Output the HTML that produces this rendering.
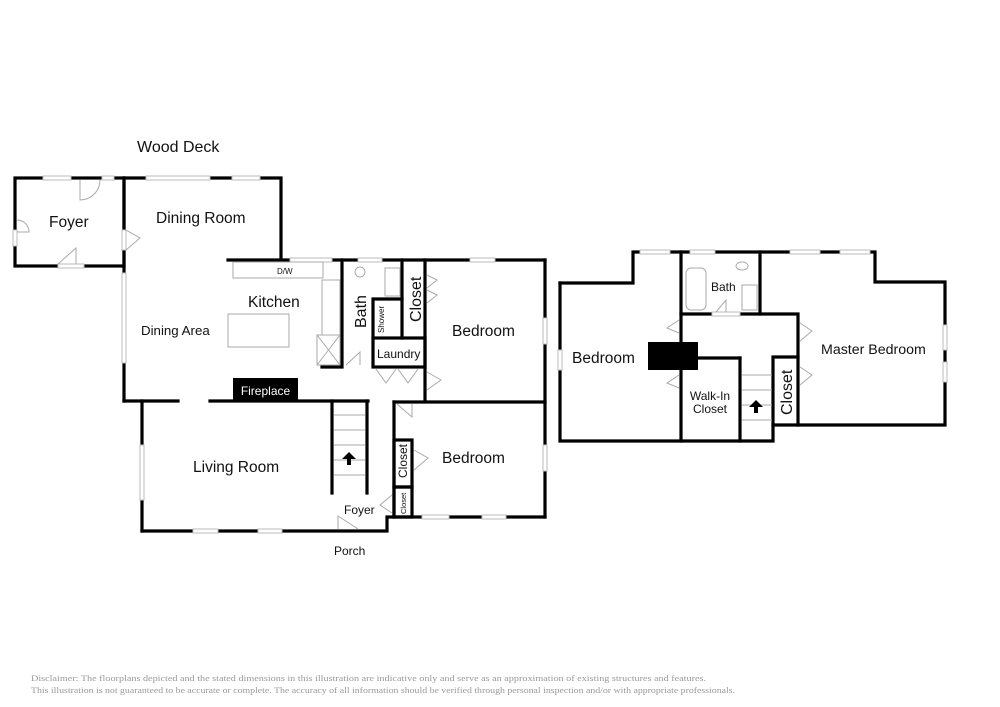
<!DOCTYPE html>
<html><head><meta charset="utf-8"><style>
body{margin:0;background:#fff;}
svg{display:block}
text{font-family:"Liberation Sans",Arial,sans-serif;fill:#111}
</style></head><body>
<svg width="1000" height="707" viewBox="0 0 1000 707" xmlns="http://www.w3.org/2000/svg">
<rect width="1000" height="707" fill="#fff"/>
<g stroke="#000" stroke-width="3.2" fill="none" stroke-linecap="square">
<rect x="15" y="178" width="109" height="88"/>
<polyline points="124,178 281,178 281,260"/>
<line x1="124" y1="178" x2="124" y2="401"/>
<line x1="228" y1="260" x2="545" y2="260"/>
<line x1="545" y1="260" x2="545" y2="517"/>
<polyline points="342,260 342,367 322,367"/>
<line x1="402" y1="260" x2="402" y2="338"/>
<line x1="425" y1="260" x2="425" y2="401"/>
<rect x="373" y="338" width="52" height="29"/>
<polyline points="402,299 373,299 373,338"/>
<line x1="124" y1="401" x2="178" y2="401"/>
<line x1="210" y1="401" x2="368" y2="401"/>
<line x1="394" y1="402" x2="545" y2="402"/>
<line x1="142" y1="401" x2="142" y2="531"/>
<polyline points="142,531 387,531 387,517 545,517"/>
<line x1="332" y1="401" x2="332" y2="493"/>
<line x1="367" y1="401" x2="367" y2="493"/>
<line x1="394" y1="402" x2="394" y2="517"/>
<rect x="394" y="440" width="18" height="47" />
<rect x="394" y="487" width="18" height="30" />
<polyline points="560,283 633,283 633,252 875,252 875,282 945,282 945,425 798,425 798,314 681,314"/>
<polyline points="560,283 560,441 773,441 773,357 798,357"/>
<line x1="681" y1="252" x2="681" y2="441"/>
<line x1="760" y1="252" x2="760" y2="314"/>
<line x1="740" y1="358" x2="740" y2="441"/>
<line x1="698" y1="358" x2="740" y2="358"/>
<line x1="773" y1="425" x2="798" y2="425"/>
</g>
<g fill="#fff" stroke="#bbb" stroke-width="1">
<rect x="43" y="176" width="28" height="4"/><rect x="102" y="176" width="12" height="4"/>
<rect x="146" y="176" width="64" height="4"/><rect x="232" y="176" width="28" height="4"/>
<rect x="58" y="264" width="26" height="4"/>
<rect x="122" y="273" width="4" height="90"/>
<rect x="13" y="230" width="4" height="16"/>
<rect x="122" y="230" width="4" height="20"/>
<rect x="290" y="258" width="42" height="4"/><rect x="358" y="258" width="24" height="4"/>
<rect x="470" y="258" width="25" height="4"/>
<rect x="543" y="318" width="4" height="26"/>
<rect x="543" y="445" width="4" height="26"/>
<rect x="140" y="445" width="4" height="55"/>
<rect x="193" y="529" width="25" height="4"/><rect x="258" y="529" width="24" height="4"/>
<rect x="422" y="515" width="27" height="4"/><rect x="482" y="515" width="24" height="4"/>
<rect x="558" y="350" width="4" height="20"/>
<rect x="640" y="250" width="30" height="4"/><rect x="690" y="250" width="25" height="4"/>
<rect x="790" y="250" width="30" height="4"/><rect x="840" y="250" width="30" height="4"/>
<rect x="943" y="325" width="4" height="25"/><rect x="943" y="362" width="4" height="20"/>
<rect x="712" y="312" width="28" height="4"/>
</g>
<g fill="none" stroke="#aaa" stroke-width="1">
<rect x="233" y="262" width="90" height="16"/>
<rect x="322" y="280" width="18" height="55"/>
<rect x="317" y="335" width="23" height="30"/>
<line x1="317" y1="335" x2="340" y2="365"/><line x1="340" y1="335" x2="317" y2="365"/>
<rect x="228" y="314" width="61" height="33"/>
<rect x="355" y="267" width="10" height="10" rx="5"/>
<rect x="385" y="268" width="15" height="28"/>
<rect x="686" y="268" width="20" height="42" rx="5"/>
<rect x="742" y="285" width="15" height="25"/>
<path d="M742 262 a6 4 0 1 0 0.1 0"/>
<path d="M334 415 h31 M334 430 h31 M334 445 h31 M334 460 h31 M334 475 h31"/>
<path d="M742 375 h30 M742 390 h30 M742 405 h30 M742 420 h30"/>
<path d="M80 180 v20 a20 20 0 0 0 20 -20"/>
<path d="M17 232 h12 a12 12 0 0 0 -12 -12"/>
<path d="M58 264 l18 -16 v16"/>
<path d="M126 230 l14 8 -14 12"/>
<path d="M346 365 l14 -13 v13"/>
<path d="M427 275 l10 5 -10 8 M427 290 l10 5 -10 8"/>
<path d="M376 369 l10 14 10 -14 M398 369 l10 14 10 -14"/>
<path d="M427 372 l14 8 -14 10"/>
<path d="M397 404 l15 13 v-13"/>
<path d="M414 450 l14 8 -14 12"/>
<path d="M392 495 l-12 10 12 8"/>
<path d="M338 529 v-13 l20 13"/>
<path d="M679 320 l-12 8 12 5 M679 375 l-12 8 12 5"/>
<path d="M716 312 l10 -12 v12"/>
<path d="M800 323 l12 8 -12 10 M800 367 l12 8 -12 10"/>
</g>
<path d="M349 452 l-7 7 h5 v6 h4 v-6 h5 z" fill="#000"/>
<path d="M756 400 l-7 7 h5 v6 h4 v-6 h5 z" fill="#000"/>
<rect x="233" y="378" width="65" height="23" fill="#000"/>
<text x="265.5" y="395" font-size="12" text-anchor="middle" style="fill:#fff">Fireplace</text>
<rect x="648" y="342" width="50" height="28" fill="#000"/>
<text x="277" y="274" font-size="8">D/W</text>
<g font-size="15.5">
<text x="137" y="152" font-size="16">Wood Deck</text>
<text x="49" y="227">Foyer</text>
<text x="156" y="223">Dining Room</text>
<text x="248" y="307">Kitchen</text>
<text x="141" y="335" font-size="13.3">Dining Area</text>
<text x="452" y="336">Bedroom</text>
<text x="193" y="472">Living Room</text>
<text x="442" y="463">Bedroom</text>
<text x="572" y="363">Bedroom</text>
<text x="821" y="354" font-size="14.2">Master Bedroom</text>
</g>
<text x="366" y="328" font-size="16" transform="rotate(-90 366 328)">Bath</text>
<text x="421" y="322" font-size="16" transform="rotate(-90 421 322)">Closet</text>
<text x="384" y="333" font-size="8" transform="rotate(-90 384 333)">Shower</text>
<text x="377" y="358" font-size="12">Laundry</text>
<text x="407" y="478" font-size="12" transform="rotate(-90 407 478)">Closet</text>
<text x="406" y="514" font-size="7.5" transform="rotate(-90 406 514)">Closet</text>
<text x="344" y="514" font-size="12">Foyer</text>
<text x="334" y="555" font-size="12">Porch</text>
<text x="711" y="291" font-size="12">Bath</text>
<text x="710" y="400" font-size="12" text-anchor="middle">Walk-In</text>
<text x="710" y="413" font-size="12" text-anchor="middle">Closet</text>
<text x="792" y="415" font-size="16" transform="rotate(-90 792 415)">Closet</text>
<text x="31" y="681" font-size="8" textLength="675" lengthAdjust="spacingAndGlyphs" style="fill:#999;font-family:'Liberation Serif',serif">Disclaimer: The floorplans depicted and the stated dimensions in this illustration are indicative only and serve as an approximation of existing structures and features.</text>
<text x="31" y="693" font-size="8" textLength="704" lengthAdjust="spacingAndGlyphs" style="fill:#999;font-family:'Liberation Serif',serif">This illustration is not guaranteed to be accurate or complete. The accuracy of all information should be verified through personal inspection and/or with appropriate professionals.</text>
</svg>
</body></html>
